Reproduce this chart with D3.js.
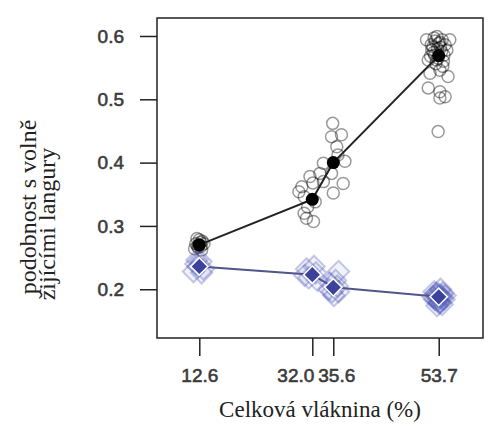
<!DOCTYPE html>
<html>
<head>
<meta charset="utf-8">
<script src="https://cdn.jsdelivr.net/npm/d3@7"></script>
<style>
  body { margin: 0; background: #fff; }
  svg { display: block; }
</style>
</head>
<body>
<div id="chart"></div>
<script>
// Data
const fiber = [12.6, 32.0, 35.6, 53.7];
const fiberLabelShift = [0, -17, 3, 0];
const wildMean = [0.270, 0.342, 0.400, 0.569];
const captiveMean = [0.236, 0.223, 0.203, 0.188];
const yTicks = [0.2, 0.3, 0.4, 0.5, 0.6];

// individual points [fibre (jittered), similarity]
const wildPts = [
  [12.0, 0.272], [13.1, 0.276], [12.4, 0.266], [12.9, 0.268], [11.8, 0.264],
  [13.4, 0.272], [12.6, 0.278], [12.2, 0.280], [13.0, 0.262], [12.5, 0.270],
  [12.8, 0.274], [12.3, 0.268],
  [30.2, 0.362], [32.1, 0.368], [30.6, 0.346], [31.2, 0.330], [30.6, 0.320],
  [32.2, 0.307], [29.7, 0.354], [31.6, 0.378], [32.5, 0.338], [31.0, 0.312],
  [35.5, 0.462], [37.0, 0.444], [35.3, 0.441], [36.2, 0.425], [33.9, 0.399],
  [37.6, 0.402], [35.3, 0.383], [37.3, 0.367], [35.6, 0.352], [33.9, 0.370],
  [33.3, 0.383], [36.4, 0.412],
  [51.6, 0.594], [53.4, 0.599], [55.6, 0.594], [52.5, 0.578], [55.1, 0.578],
  [51.9, 0.562], [54.5, 0.560], [53.9, 0.546], [52.7, 0.583], [53.9, 0.590],
  [54.2, 0.575], [53.0, 0.570], [52.4, 0.586], [54.8, 0.586], [53.6, 0.565],
  [51.9, 0.518], [53.9, 0.512], [54.8, 0.504], [53.9, 0.502], [53.6, 0.449],
  [55.3, 0.536], [52.2, 0.541], [53.2, 0.556], [54.4, 0.552], [53.1, 0.592],
  [54.0, 0.582], [52.9, 0.597], [54.6, 0.570], [53.5, 0.580], [52.8, 0.574],
  [54.3, 0.594], [53.7, 0.588], [52.3, 0.568], [53.3, 0.562]
];
const captivePts = [
  [12.0, 0.240], [13.3, 0.232], [11.6, 0.228], [12.9, 0.244], [12.4, 0.236],
  [13.0, 0.226], [12.2, 0.246],
  [31.0, 0.232], [32.6, 0.226], [31.4, 0.218], [32.3, 0.236], [30.7, 0.222],
  [32.9, 0.214],
  [35.0, 0.210], [36.3, 0.205], [35.4, 0.196], [36.0, 0.214], [34.8, 0.200],
  [36.5, 0.196], [35.7, 0.190], [36.5, 0.228],
  [53.2, 0.190], [54.1, 0.186], [53.5, 0.182], [54.4, 0.194], [52.9, 0.196],
  [53.8, 0.178], [54.6, 0.184], [53.0, 0.184], [54.0, 0.200], [53.4, 0.174],
  [54.3, 0.176], [53.7, 0.192], [52.7, 0.188], [54.8, 0.190], [53.6, 0.186],
  [53.9, 0.180], [53.3, 0.194], [54.2, 0.190]
];

const W = 489, H = 426;
const box = { left: 157, right: 483, top: 18, bottom: 338 };

const svg = d3.select("#chart").append("svg")
  .attr("width", W).attr("height", H);

const x = d3.scaleLinear().domain([5.34, 61.3]).range([box.left, box.right]);
const y = d3.scaleLinear().domain([0.123, 0.6284]).range([box.bottom, box.top]);

// Axes
const yAxis = svg.append("g")
  .attr("transform", `translate(${box.left},0)`)
  .call(d3.axisLeft(y).tickValues(yTicks).tickFormat(d3.format(".1f"))
    .tickSize(17).tickPadding(16));
const xAxis = svg.append("g")
  .attr("transform", `translate(0,${box.bottom})`)
  .call(d3.axisBottom(x).tickValues(fiber).tickFormat(d3.format(".1f"))
    .tickSize(18).tickPadding(13));

[xAxis, yAxis].forEach(g => {
  g.select(".domain").remove();
  g.selectAll(".tick line").attr("stroke", "#222").attr("stroke-width", 1.5);
  g.selectAll(".tick text")
    .attr("fill", "#3c3c3c")
    .attr("stroke", "#3c3c3c")
    .attr("stroke-width", 0.6)
    .style("font-family", "'Liberation Sans', Arial, sans-serif")
    .style("font-size", "19px");
});
// 32.0 and 35.6 sit close together: nudge their labels apart
xAxis.selectAll(".tick text").attr("dx", (d, i) => fiberLabelShift[i]);

// Box
svg.append("rect")
  .attr("x", box.left).attr("y", box.top)
  .attr("width", box.right - box.left).attr("height", box.bottom - box.top)
  .attr("fill", "none").attr("stroke", "#222").attr("stroke-width", 1.5);

// Individual wild-langur similarity points
svg.append("g").selectAll("circle")
  .data(wildPts)
  .enter().append("circle")
  .attr("cx", d => x(d[0]))
  .attr("cy", d => y(d[1]))
  .attr("r", 6)
  .attr("fill", "none")
  .attr("stroke", "rgba(0,0,0,0.4)")
  .attr("stroke-width", 1.5);

// Individual captive points (diamonds)
const diamond = d3.symbol(d3.symbolSquare);
svg.append("g").selectAll("path")
  .data(captivePts)
  .enter().append("path")
  .attr("d", diamond.size(230)())
  .attr("transform", d => `translate(${x(d[0])},${y(d[1])}) rotate(45)`)
  .attr("fill", "rgba(70,80,180,0.07)")
  .attr("stroke", "rgba(70,80,180,0.3)")
  .attr("stroke-width", 2);

// Mean lines
const line = d3.line().x(d => x(d[0])).y(d => y(d[1]));
svg.append("path")
  .datum(fiber.map((f, i) => [f, wildMean[i]]))
  .attr("d", line)
  .attr("fill", "none")
  .attr("stroke", "#222")
  .attr("stroke-width", 2);
svg.append("path")
  .datum(fiber.map((f, i) => [f, captiveMean[i]]))
  .attr("d", line)
  .attr("fill", "none")
  .attr("stroke", "#50558a")
  .attr("stroke-width", 2);

// Means
svg.append("g").selectAll("circle")
  .data(fiber)
  .enter().append("circle")
  .attr("cx", d => x(d))
  .attr("cy", (d, i) => y(wildMean[i]))
  .attr("r", 6.5)
  .attr("fill", "#000");
svg.append("g").selectAll("path")
  .data(fiber)
  .enter().append("path")
  .attr("d", diamond.size(150)())
  .attr("transform", (d, i) => `translate(${x(d)},${y(captiveMean[i])}) rotate(45)`)
  .attr("fill", "#3b429c")
  .attr("stroke", "#fff")
  .attr("stroke-width", 1.5);

// Axis titles
svg.append("text")
  .attr("x", (box.left + box.right) / 2)
  .attr("y", 417)
  .attr("text-anchor", "middle")
  .style("font-family", "'Liberation Serif', 'Times New Roman', serif")
  .style("font-size", "23px")
  .attr("fill", "#222")
  .text("Celková vláknina (%)");

const yTitle = ["podobnost s volně", "žijícími langury"];
svg.append("g").selectAll("text")
  .data(yTitle)
  .enter().append("text")
  .attr("transform", (d, i) => `translate(${36 + i * 19},${207 + i * 17}) rotate(-90)`)
  .attr("text-anchor", "middle")
  .style("font-family", "'Liberation Serif', 'Times New Roman', serif")
  .style("font-size", "24px")
  .attr("fill", "#222")
  .text(d => d);
</script>
</body>
</html>
